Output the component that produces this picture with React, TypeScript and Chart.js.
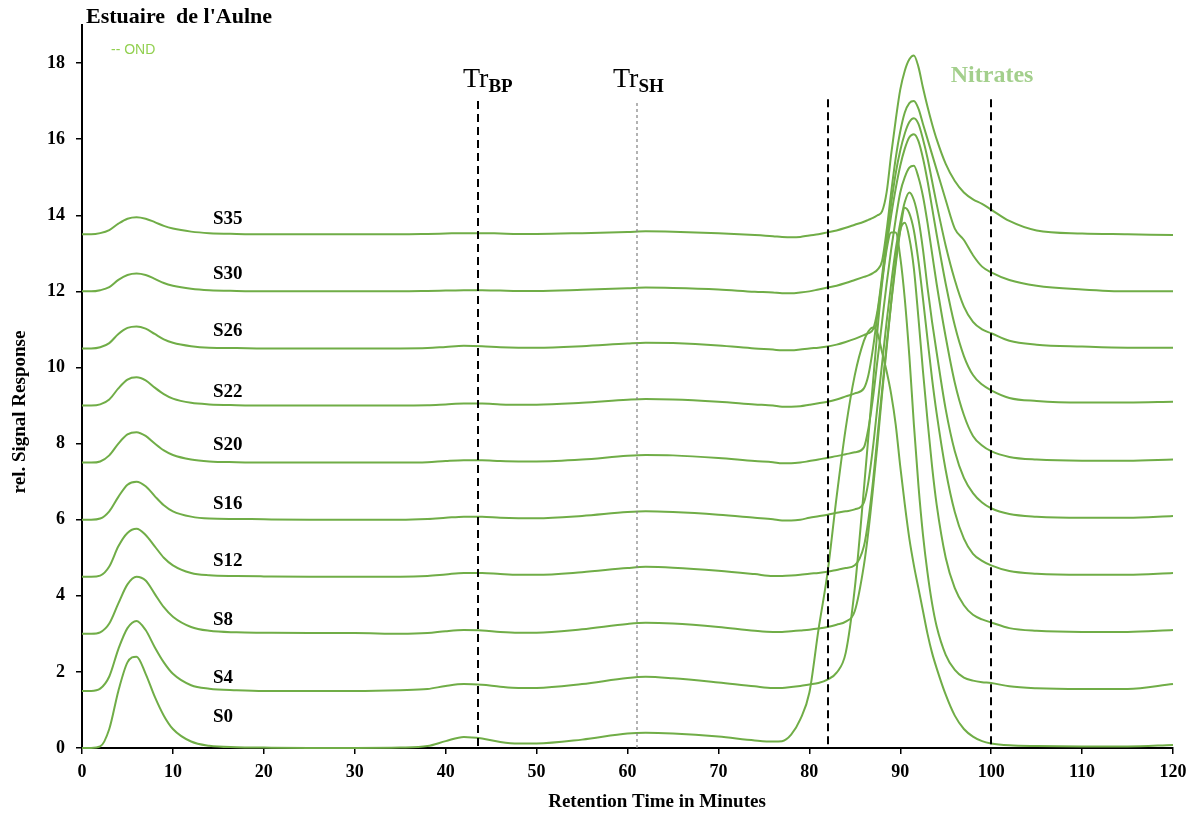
import { useEffect, useRef } from "react";
import { Chart, registerables } from "chart.js";

Chart.register(...registerables);

// Retention time grid (minutes)
const times = [0, 1, 2, 3, 4, 5, 6, 7, 8, 9, 10, 12, 14, 17, 20, 25, 30, 35, 38, 40, 42, 44, 46, 48, 50, 55, 60, 62, 65, 70, 74, 76, 77, 78, 79, 80, 81, 82, 83, 84, 85, 86, 86.5, 87, 87.5, 88, 88.5, 89, 89.5, 90, 90.5, 91, 91.5, 92, 92.5, 93, 93.5, 94, 95, 96, 97, 98, 99, 100, 102, 105, 110, 115, 120];

const seriesNames = ["S0", "S4", "S8", "S12", "S16", "S20", "S22", "S26", "S30", "S35"];

const s0 = [0, 0, 0.04, 0.5, 1.5, 2.25, 2.4, 1.95, 1.35, 0.85, 0.5,
  0.17, 0.06, 0.02, 0.01, 0, 0, 0.01,
  0.05, 0.18, 0.29, 0.25, 0.16, 0.12, 0.12,
  0.22, 0.38, 0.4, 0.38, 0.3, 0.2,
  0.17, 0.18, 0.35, 0.75, 1.45, 3.1, 4.6, 6.6, 8.4, 9.8, 10.7,
  10.95, 11.05, 10.9, 10.4, 9.9, 9.3, 8.5, 7.4, 6.4, 5.5, 4.8, 4.2, 3.6, 3.0, 2.5, 2.1,
  1.4, 0.85, 0.5, 0.3, 0.18, 0.12,
  0.07, 0.05, 0.04, 0.04, 0.08];
const s4 = [1.5, 1.5, 1.56, 1.88, 2.6, 3.15, 3.34, 3.1, 2.65, 2.25, 1.95,
  1.65, 1.56, 1.52, 1.5, 1.5, 1.5, 1.52,
  1.55, 1.63, 1.68, 1.66, 1.61, 1.58, 1.58,
  1.68, 1.84, 1.87, 1.83, 1.72, 1.62,
  1.58, 1.58, 1.6, 1.63, 1.67, 1.71, 1.8, 1.98, 2.5, 4.2, 6.8,
  8.2, 9.6, 11.0, 12.2, 13.1, 13.55, 13.55, 12.9, 11.8, 10.3, 8.5, 6.9, 5.6, 4.6, 3.8, 3.2,
  2.45, 2.05, 1.85, 1.77, 1.73, 1.71,
  1.62, 1.57, 1.55, 1.55, 1.68];
const s8 = [3.0, 3.0, 3.04, 3.27, 3.8, 4.3, 4.5, 4.4, 4.05, 3.7, 3.45,
  3.18, 3.08, 3.04, 3.03, 3.02, 3.02, 3.0,
  3.02, 3.07, 3.1, 3.09, 3.05, 3.03, 3.03,
  3.12, 3.26, 3.29, 3.27, 3.18, 3.08,
  3.05, 3.05, 3.07, 3.09, 3.11, 3.14, 3.18, 3.24, 3.32, 3.6, 4.8,
  5.7, 6.8, 8.0, 9.3, 10.5, 11.7, 12.8, 13.6, 13.8, 13.4, 12.6, 11.3, 9.9, 8.6, 7.4, 6.4,
  5.0, 4.2, 3.75, 3.5, 3.38, 3.3,
  3.15, 3.08, 3.05, 3.05, 3.1];
const s12 = [4.5, 4.5, 4.53, 4.77, 5.3, 5.65, 5.76, 5.6, 5.3, 5.0, 4.8,
  4.6, 4.54, 4.52, 4.51, 4.5, 4.5, 4.5,
  4.52, 4.56, 4.6, 4.6, 4.57, 4.55, 4.55,
  4.62, 4.73, 4.76, 4.74, 4.66, 4.57,
  4.52, 4.52, 4.53, 4.55, 4.58, 4.6, 4.63, 4.68, 4.73, 4.8, 5.3,
  6.0, 7.0, 8.2, 9.4, 10.6, 11.7, 12.7, 13.6, 14.2, 14.05, 13.6, 12.8, 11.8, 10.74, 9.7, 8.8,
  7.3, 6.2, 5.5, 5.1, 4.92, 4.8,
  4.65, 4.58, 4.55, 4.55, 4.6];
const s16 = [6.0, 6.0, 6.03, 6.22, 6.6, 6.92, 7.0, 6.88, 6.62, 6.38, 6.22,
  6.08, 6.03, 6.02, 6.01, 6.0, 6.0, 6.0,
  6.02, 6.05, 6.08, 6.08, 6.05, 6.04, 6.04,
  6.1, 6.2, 6.22, 6.2, 6.13, 6.05,
  6.01, 5.98, 5.98, 6.0, 6.05, 6.09, 6.13, 6.18, 6.22, 6.27, 6.45,
  7.0, 7.9, 9.0, 10.1, 11.2, 12.2, 13.1, 13.8, 14.35, 14.6, 14.4, 13.9, 13.1, 12.1, 11.2, 10.4,
  8.9, 7.8, 7.1, 6.7, 6.45, 6.3,
  6.15, 6.08, 6.05, 6.05, 6.1];
const s20 = [7.5, 7.5, 7.53, 7.69, 8.0, 8.24, 8.3, 8.2, 8.0, 7.82, 7.7,
  7.58, 7.53, 7.51, 7.5, 7.5, 7.5, 7.5,
  7.51, 7.54, 7.56, 7.56, 7.54, 7.53, 7.53,
  7.58, 7.68, 7.7, 7.69, 7.62, 7.54,
  7.51, 7.48, 7.48, 7.5, 7.54, 7.58, 7.63, 7.67, 7.72, 7.77, 7.9,
  8.4, 9.2, 10.2, 11.2, 12.2, 13.1, 13.9, 14.6, 15.0, 15.25, 15.3, 15.0, 14.5, 13.8, 13.0, 12.2,
  10.8, 9.6, 8.75, 8.2, 7.95, 7.8,
  7.65, 7.58, 7.55, 7.55, 7.58];
const s22 = [9.0, 9.0, 9.03, 9.16, 9.45, 9.68, 9.74, 9.66, 9.47, 9.3, 9.18,
  9.07, 9.03, 9.01, 9.0, 9.0, 9.0, 9.0,
  9.01, 9.03, 9.05, 9.05, 9.03, 9.02, 9.02,
  9.07, 9.15, 9.17, 9.16, 9.1, 9.03,
  9.0, 8.97, 8.97, 8.98, 9.02, 9.06, 9.1, 9.16, 9.24, 9.32, 9.45,
  9.8, 10.5, 11.4, 12.3, 13.2, 14.0, 14.7, 15.3, 15.75, 16.05, 16.13, 15.95, 15.5, 14.9, 14.2, 13.5,
  12.2, 11.1, 10.3, 9.8, 9.55, 9.4,
  9.2, 9.12, 9.08, 9.08, 9.1];
const s26 = [10.5, 10.5, 10.53, 10.64, 10.88, 11.04, 11.08, 11.02, 10.88, 10.74, 10.65,
  10.56, 10.52, 10.51, 10.5, 10.5, 10.5, 10.5,
  10.51, 10.54, 10.57, 10.56, 10.53, 10.52, 10.52,
  10.56, 10.63, 10.65, 10.64, 10.58, 10.5,
  10.47, 10.45, 10.45, 10.47, 10.5, 10.52, 10.55, 10.6, 10.67, 10.75, 10.85,
  10.9, 11.0, 11.5, 12.4, 13.4, 14.3, 15.1, 15.7, 16.15, 16.45, 16.55, 16.4, 16.0, 15.5, 14.9, 14.3,
  13.2, 12.3, 11.6, 11.2, 11.0, 10.9,
  10.7, 10.6, 10.55, 10.52, 10.52];
const s30 = [12.0, 12.0, 12.03, 12.11, 12.3, 12.43, 12.47, 12.43, 12.33, 12.22, 12.15,
  12.07, 12.03, 12.01, 12.0, 12.0, 12.0, 12.0,
  12.01, 12.02, 12.03, 12.03, 12.02, 12.01, 12.01,
  12.04, 12.08, 12.1, 12.09, 12.05, 11.99,
  11.97, 11.95, 11.95, 11.97, 12.0, 12.05, 12.1, 12.15, 12.22, 12.3, 12.38,
  12.42, 12.48, 12.57, 12.8, 13.6, 14.6, 15.5, 16.2, 16.7, 16.95, 17.0, 16.8, 16.4, 16.0, 15.6, 15.2,
  14.4, 13.65, 13.35, 12.95, 12.65, 12.5,
  12.3, 12.15, 12.05, 12.0, 12.0];
const s35 = [13.5, 13.5, 13.53, 13.61, 13.78, 13.91, 13.95, 13.91, 13.82, 13.72, 13.65,
  13.57, 13.53, 13.51, 13.5, 13.5, 13.5, 13.5,
  13.51, 13.52, 13.53, 13.53, 13.52, 13.51, 13.51,
  13.53, 13.56, 13.58, 13.57, 13.53, 13.48,
  13.45, 13.43, 13.42, 13.43, 13.47, 13.5, 13.55, 13.6, 13.67, 13.75, 13.83,
  13.88, 13.93, 14.0, 14.1, 14.6, 15.6, 16.5, 17.3, 17.8, 18.1, 18.2, 17.9, 17.35, 16.85, 16.4, 16.0,
  15.35, 14.9, 14.6, 14.42, 14.3, 14.15,
  13.85, 13.6, 13.52, 13.5, 13.48];

const seriesValues = [s0, s4, s8, s12, s16, s20, s22, s26, s30, s35];

// label anchors (data units)
const labelTime = 14.4;
const labelLevels = [0.8, 1.85, 3.35, 4.9, 6.4, 7.95, 9.35, 10.95, 12.45, 13.9];

// vertical reference lines
const markerTimes = [43.6, 61.0, 82, 100];
const markerTops = [17.0, 16.95, 17.05, 17.05];
const markerColors = ["#000000", "#808080", "#000000", "#000000"];
const markerWidths = [2, 1.2, 2, 2];
const markerDashes = [[8, 5], [3, 3], [8, 5], [8, 5]];

// "Tr" labels
const trSubs = ["BP", "SH"];
const trTimes = [41.9, 58.4];
const trLevel = 17.37;

const xTitle = "Retention Time in Minutes";
const yTitle = "rel. Signal Response";
const chartTitle = "Estuaire  de l'Aulne";
const nitrateLabel = "Nitrates";
const legendText = "-- OND";

const SERIF = "'Liberation Serif', 'Times New Roman', serif";
const SANS = "'Liberation Sans', Arial, sans-serif";
const LINE_GREEN = "#70ad47";

const annotate = {
  id: "annotate",
  afterDatasetsDraw(chart: any) {
    const { ctx, chartArea } = chart;
    const x = chart.scales.x;
    const y = chart.scales.y;
    ctx.save();

    // vertical markers
    markerTimes.forEach((t, i) => {
      const px = Math.round(x.getPixelForValue(t));
      ctx.beginPath();
      ctx.setLineDash(markerDashes[i]);
      ctx.strokeStyle = markerColors[i];
      ctx.lineWidth = markerWidths[i];
      ctx.moveTo(px, y.getPixelForValue(markerTops[i]));
      ctx.lineTo(px, y.getPixelForValue(0));
      ctx.stroke();
    });
    ctx.setLineDash([]);

    // series labels
    ctx.fillStyle = "#000";
    ctx.font = `bold 19px ${SERIF}`;
    ctx.textAlign = "left";
    ctx.textBaseline = "middle";
    seriesNames.forEach((n, i) => {
      ctx.fillText(n, x.getPixelForValue(labelTime), y.getPixelForValue(labelLevels[i]));
    });

    // Tr labels
    ctx.textBaseline = "alphabetic";
    trSubs.forEach((sub, i) => {
      const px = x.getPixelForValue(trTimes[i]);
      const py = y.getPixelForValue(trLevel);
      ctx.font = `28px ${SERIF}`;
      ctx.fillText("Tr", px, py);
      const w = ctx.measureText("Tr").width;
      ctx.font = `bold 19px ${SERIF}`;
      ctx.fillText(sub, px + w, py + 5);
    });

    // Nitrates
    ctx.font = `bold 24px ${SERIF}`;
    ctx.fillStyle = "#a3cf8c";
    ctx.textAlign = "center";
    ctx.textBaseline = "middle";
    ctx.fillText(nitrateLabel, x.getPixelForValue(100.1), y.getPixelForValue(17.66));

    // Title
    ctx.fillStyle = "#000";
    ctx.textAlign = "left";
    ctx.textBaseline = "middle";
    ctx.font = `bold 22px ${SERIF}`;
    ctx.fillText(chartTitle, chartArea.left + 4, 17);

    // legend
    ctx.fillStyle = "#92d050";
    ctx.font = `14px ${SANS}`;
    ctx.fillText(legendText, chartArea.left + 29, 50);

    // axis titles
    ctx.fillStyle = "#000";
    ctx.font = `bold 19px ${SERIF}`;
    ctx.textAlign = "center";
    ctx.fillText(xTitle, 657, 802);
    ctx.save();
    ctx.translate(20, 412);
    ctx.rotate(-Math.PI / 2);
    ctx.fillText(yTitle, 0, 0);
    ctx.restore();

    ctx.restore();
  },
};

export default function App() {
  const ref = useRef<HTMLCanvasElement>(null);
  useEffect(() => {
    const datasets = seriesValues.map((vals, i) => ({
      label: seriesNames[i],
      data: times.map((t, j) => ({ x: t, y: vals[j] })),
      borderColor: LINE_GREEN,
      backgroundColor: LINE_GREEN,
      borderWidth: 2,
      pointRadius: 0,
      fill: false,
      cubicInterpolationMode: "monotone" as const,
      clip: false as any,
    }));
    const tickFont = { family: SERIF, size: 18, weight: "bold" as const };
    const chart = new Chart(ref.current!, {
      type: "line",
      data: { datasets },
      options: {
        animation: false,
        responsive: true,
        maintainAspectRatio: false,
        layout: { padding: { top: 25, right: 26, left: 0, bottom: 0 } },
        plugins: { legend: { display: false }, tooltip: { enabled: false } },
        scales: {
          x: {
            type: "linear",
            min: 0,
            max: 120,
            afterFit: (s: any) => { s.height = 66; },
            ticks: { stepSize: 10, color: "#000", font: tickFont, padding: 8, maxRotation: 0 },
            grid: { drawOnChartArea: false, drawTicks: true, tickLength: 6, color: "#000", lineWidth: 1.5 },
            border: { display: true, color: "#000", width: 2 },
          },
          y: {
            type: "linear",
            min: 0,
            max: 19,
            afterFit: (s: any) => { s.width = 82; },
            ticks: { stepSize: 2, color: "#000", font: tickFont, padding: 11, includeBounds: false },
            grid: { drawOnChartArea: false, drawTicks: true, tickLength: 6, color: "#000", lineWidth: 1.5 },
            border: { display: true, color: "#000", width: 2 },
          },
        },
      },
      plugins: [annotate],
    });
    return () => chart.destroy();
  }, []);
  return (
    <div style={{ position: "fixed", left: 0, top: 0, width: 1199, height: 814, background: "#fff" }}>
      <canvas ref={ref} />
    </div>
  );
}
